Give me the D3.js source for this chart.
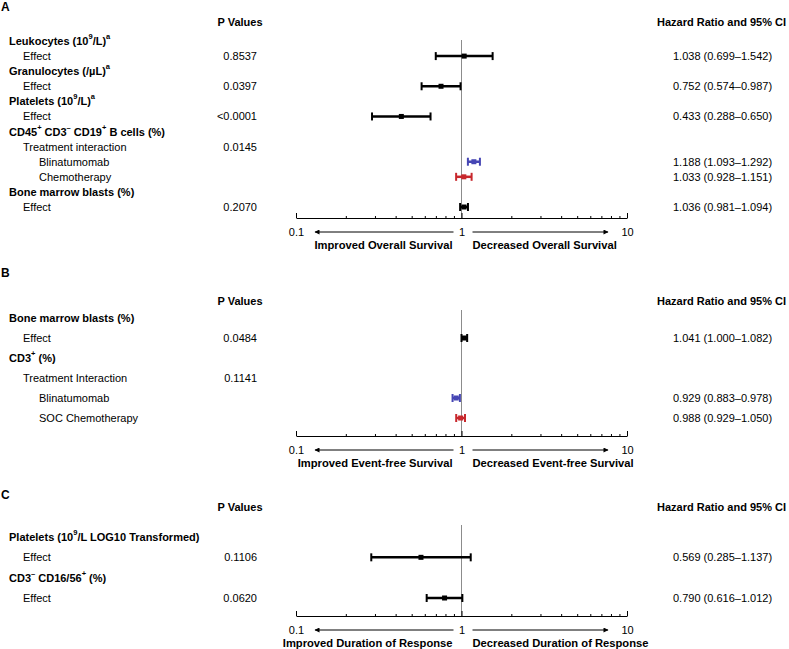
<!DOCTYPE html>
<html>
<head>
<meta charset="utf-8">
<script src="https://cdn.jsdelivr.net/npm/d3@7"></script>
<style>
  body { margin: 0; background: #fff; }
  svg { display: block; }
  text { font-family: Arial, "Liberation Sans", Helvetica, sans-serif; fill: #000; }
</style>
</head>
<body>
<div id="chart"></div>
<script>
// A - overall survival
const labelsA = ["Leukocytes (10{9}/L){a}", "Effect", "Granulocytes (/µL){a}", "Effect", "Platelets (10{9}/L){a}", "Effect",
  "CD45{+} CD3{–} CD19{+} B cells (%)", "Treatment interaction", "Blinatumomab", "Chemotherapy", "Bone marrow blasts (%)", "Effect"];
const kindsA = ["group", "effect", "group", "effect", "group", "effect", "group", "effect", "arm", "arm", "group", "effect"];
const pValuesA = [null, "0.8537", null, "0.0397", null, "<0.0001", null, "0.0145", null, null, null, "0.2070"];
const hrA = [null, 1.038, null, 0.752, null, 0.433, null, null, 1.188, 1.033, null, 1.036];
const loA = [null, 0.699, null, 0.574, null, 0.288, null, null, 1.093, 0.928, null, 0.981];
const hiA = [null, 1.542, null, 0.987, null, 0.650, null, null, 1.292, 1.151, null, 1.094];
const seriesA = [null, "all", null, "all", null, "all", null, null, "blin", "chemo", null, "all"];

// B - event-free survival
const labelsB = ["Bone marrow blasts (%)", "Effect", "CD3{+} (%)", "Treatment Interaction", "Blinatumomab", "SOC Chemotherapy"];
const kindsB = ["group", "effect", "group", "effect", "arm", "arm"];
const pValuesB = [null, "0.0484", null, "0.1141", null, null];
const hrB = [null, 1.041, null, null, 0.929, 0.988];
const loB = [null, 1.000, null, null, 0.883, 0.929];
const hiB = [null, 1.082, null, null, 0.978, 1.050];
const seriesB = [null, "all", null, null, "blin", "chemo"];

// C - duration of response
const labelsC = ["Platelets (10{9}/L LOG10 Transformed)", "Effect", "CD3{–} CD16/56{+} (%)", "Effect"];
const kindsC = ["group", "effect", "group", "effect"];
const pValuesC = [null, "0.1106", null, "0.0620"];
const hrC = [null, 0.569, null, 0.790];
const loC = [null, 0.285, null, 0.616];
const hiC = [null, 1.137, null, 1.012];
const seriesC = [null, "all", null, "all"];

const outcomes = ["Overall Survival", "Event-free Survival", "Duration of Response"];
const letters = ["A", "B", "C"];
const majorTicks = [0.1, 1, 10];
const minorTicks = [0.2, 0.3, 0.4, 0.5, 0.6, 0.7, 0.8, 0.9, 2, 3, 4, 5, 6, 7, 8, 9];

const W = 789, H = 649;
const colors = { all: "#000", blin: "#4646b4", chemo: "#c8282d" };
const indent = { group: 9, effect: 23, arm: 39 };
const fmt = d3.format(".3f");

const svg = d3.select("#chart").append("svg")
  .attr("width", W).attr("height", H);

svg.append("defs").append("marker")
  .attr("id", "arrow")
  .attr("viewBox", "0 0 10 10")
  .attr("refX", 9).attr("refY", 5)
  .attr("markerWidth", 7).attr("markerHeight", 5)
  .attr("markerUnits", "userSpaceOnUse")
  .attr("orient", "auto")
  .append("path").attr("d", "M0,0L10,5L0,10Z").attr("fill", "#000");

const x = d3.scaleLog().domain([0.1, 10]).range([296, 627]);

// panel layout
const layout = [
  { letterY: 7, headY: 22, first: 41, last: 207, lineTop: 40, axisY: 218 },
  { letterY: 273, headY: 301, first: 318, last: 418, lineTop: 310, axisY: 436 },
  { letterY: 495, headY: 507, first: 537, last: 598, lineTop: 525, axisY: 616 }
];

const panels = [
  { labels: labelsA, kinds: kindsA, p: pValuesA, hr: hrA, lo: loA, hi: hiA, series: seriesA },
  { labels: labelsB, kinds: kindsB, p: pValuesB, hr: hrB, lo: loB, hi: hiB, series: seriesB },
  { labels: labelsC, kinds: kindsC, p: pValuesC, hr: hrC, lo: loC, hi: hiC, series: seriesC }
];

// split "{x}" parts into superscripts
function richText(sel, str) {
  str.split(/(\{[^}]*\})/).filter(s => s.length).forEach(part => {
    if (part[0] === "{") {
      sel.append("tspan").attr("baseline-shift", "super").style("font-size", "7.5px").text(part.slice(1, -1));
    } else {
      sel.append("tspan").text(part);
    }
  });
}

panels.forEach((pd, pi) => {
  const L = layout[pi];
  const g = svg.append("g");
  const y = d3.scalePoint().domain(d3.range(pd.labels.length)).range([L.first, L.last]);

  g.append("text").attr("x", 1).attr("y", L.letterY).attr("dominant-baseline", "central")
    .style("font-size", "12px").style("font-weight", "bold").text(letters[pi]);

  g.append("text").attr("x", 240).attr("y", L.headY).attr("dominant-baseline", "central")
    .attr("text-anchor", "middle").style("font-size", "11px").style("font-weight", "bold").text("P Values");
  g.append("text").attr("x", 657).attr("y", L.headY).attr("dominant-baseline", "central")
    .style("font-size", "11px").style("font-weight", "bold").text("Hazard Ratio and 95% CI");

  // reference line at HR = 1
  g.append("line")
    .attr("x1", x(1)).attr("x2", x(1)).attr("y1", L.lineTop).attr("y2", L.axisY)
    .attr("stroke", "#8c8c8c").attr("stroke-width", 1);

  pd.labels.forEach((lab, i) => {
    const t = g.append("text").attr("x", indent[pd.kinds[i]]).attr("y", y(i))
      .attr("dominant-baseline", "central").style("font-size", "11px")
      .style("font-weight", pd.kinds[i] === "group" ? "bold" : "normal");
    richText(t, lab);

    if (pd.p[i]) {
      g.append("text").attr("x", 257).attr("y", y(i)).attr("dominant-baseline", "central")
        .attr("text-anchor", "end").style("font-size", "11px").text(pd.p[i]);
    }
    if (pd.hr[i] != null) {
      const c = colors[pd.series[i]];
      g.append("text").attr("x", 673).attr("y", y(i)).attr("dominant-baseline", "central")
        .style("font-size", "11px")
        .text(`${fmt(pd.hr[i])} (${fmt(pd.lo[i])}–${fmt(pd.hi[i])})`);
      g.append("line").attr("x1", x(pd.lo[i])).attr("x2", x(pd.hi[i]))
        .attr("y1", y(i)).attr("y2", y(i)).attr("stroke", c).attr("stroke-width", 2.5);
      [pd.lo[i], pd.hi[i]].forEach(v => {
        g.append("line").attr("x1", x(v)).attr("x2", x(v))
          .attr("y1", y(i) - 4).attr("y2", y(i) + 4).attr("stroke", c).attr("stroke-width", 2);
      });
      g.append("rect").attr("x", x(pd.hr[i]) - 2.5).attr("y", y(i) - 2.5)
        .attr("width", 5).attr("height", 5).attr("fill", c);
    }
  });

  // axis: minor ticks, then major ticks with labels
  const ax = g.append("g").attr("transform", `translate(0,${L.axisY})`);
  ax.append("g").call(d3.axisBottom(x).tickValues(minorTicks).tickSizeInner(-2).tickSizeOuter(0).tickFormat(""))
    .call(a => a.select(".domain").remove());
  ax.append("g").call(d3.axisBottom(x).tickValues(majorTicks).tickSizeInner(-5).tickSizeOuter(0)
      .tickPadding(10).tickFormat(d3.format("")))
    .call(a => a.selectAll("text").style("font-size", "11px").attr("fill", "#000")
      .style("font-family", "Arial, 'Liberation Sans', Helvetica, sans-serif"));
  ax.selectAll("line, path").attr("stroke", "#000");

  // arrows
  const ay = L.axisY + 14;
  g.append("line").attr("x1", x(1) - 8).attr("x2", x(0.1) + 19).attr("y1", ay).attr("y2", ay)
    .attr("stroke", "#000").attr("stroke-width", 1).attr("marker-end", "url(#arrow)");
  g.append("line").attr("x1", x(1) + 11).attr("x2", x(10) - 19).attr("y1", ay).attr("y2", ay)
    .attr("stroke", "#000").attr("stroke-width", 1).attr("marker-end", "url(#arrow)");

  g.append("text").attr("x", x(1) - 9).attr("y", L.axisY + 27).attr("dominant-baseline", "central")
    .attr("text-anchor", "end").style("font-size", "11.2px").style("font-weight", "bold")
    .text("Improved " + outcomes[pi]);
  g.append("text").attr("x", x(1) + 11).attr("y", L.axisY + 27).attr("dominant-baseline", "central")
    .style("font-size", "11.2px").style("font-weight", "bold")
    .text("Decreased " + outcomes[pi]);
});
</script>
</body>
</html>
